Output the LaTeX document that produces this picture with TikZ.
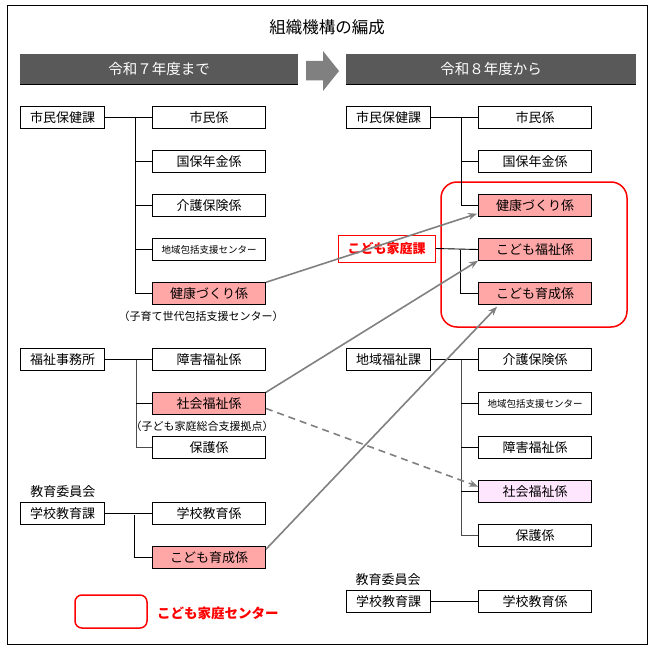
\documentclass[tikz,border=0pt]{standalone}
\usepackage{fontspec}
\setmainfont{Noto Sans CJK JP}
\usetikzlibrary{arrows.meta}
\definecolor{pinkfill}{HTML}{FFA6A6}
\definecolor{lightpink}{HTML}{FFE6FF}
\definecolor{barfill}{HTML}{595959}
\definecolor{arrowgray}{HTML}{808080}
\definecolor{boxred}{HTML}{FF0000}
\begin{document}
\begin{tikzpicture}[x=1pt,y=-1pt,
  every node/.style={inner sep=0pt},
  unitbox/.style={draw=black, line width=0.9pt, fill=white, minimum height=21.5pt, font=\fontsize{13}{13}\selectfont},
  kabox/.style={unitbox, minimum width=84pt},
  kakaribox/.style={unitbox, minimum width=113pt},
  smalltxt/.style={font=\fontsize{9.5}{9.5}\selectfont},
  hot/.style={fill=pinkfill},
  note/.style={font=\fontsize{11}{11}\selectfont},
  tree/.style={draw=black, line width=0.9pt},
  move/.style={draw=arrowgray, line width=1.6pt, -{Stealth[length=9pt,width=7pt]}},
  headbar/.style={fill=barfill, minimum width=278pt, minimum height=30pt, text=white, font=\fontsize{14.5}{14.5}\selectfont},
  centerbox/.style={draw=boxred, line width=1.5pt, rounded corners=16pt}
]
\useasboundingbox (0,0) rectangle (653,650);
% frame
\node[draw=black, line width=1pt, minimum width=640pt, minimum height=638pt] (frame) at (327,325) {};
% title
\node[font=\fontsize{16.5}{16.5}\selectfont] (title) at (327,27) {組織機構の編成};
% header bars
\node[headbar] (hleft) at (159,69) {令和７年度まで};
\node[headbar, minimum width=290pt] (hright) at (491,69) {令和８年度から};
\draw[black, line width=1.2pt] (hleft.south west) -- (hleft.south east);
\draw[black, line width=1.2pt] (hright.south west) -- (hright.south east);
\fill[arrowgray] (306,61) -- (323,61) -- (323,51) -- (339,71) -- (323,91) -- (323,80.5) -- (306,80.5) -- cycle;

% ===== left column =====
\node[kabox] (Lshimin) at (62.5,117.5) {市民保健課};
\node[kakaribox] (L1) at (209,117.5) {市民係};
\node[kakaribox] (L2) at (209,161.5) {国保年金係};
\node[kakaribox] (L3) at (209,205.5) {介護保険係};
\node[kakaribox, smalltxt] (L4) at (209,249.5) {地域包括支援センター};
\node[kakaribox, hot] (L5) at (209,293.5) {健康づくり係};
\node[note] (L5n) at (201,316) {（子育て世代包括支援センター）};
\coordinate (Lb1) at (135,117.5);
\draw[tree] (Lshimin.east) -- (L1.west);
\draw[tree] (Lb1) |- (L5.west);
\draw[tree] (Lb1 |- L2.west) -- (L2.west);
\draw[tree] (Lb1 |- L3.west) -- (L3.west);
\draw[tree] (Lb1 |- L4.west) -- (L4.west);

\node[kabox] (Lfukushi) at (62.5,359.5) {福祉事務所};
\node[kakaribox] (L6) at (209,359.5) {障害福祉係};
\node[kakaribox, hot] (L7) at (209,403.5) {社会福祉係};
\node[note] (L7n) at (202,426) {（子ども家庭総合支援拠点）};
\node[kakaribox] (L8) at (209,447.5) {保護係};
\coordinate (Lb2) at (136,359.5);
\draw[tree] (Lfukushi.east) -- (L6.west);
\draw[tree, draw=black!70] (Lb2) |- (L8.west);
\draw[tree] (Lb2 |- L7.west) -- (L7.west);

\node[font=\fontsize{13}{13}\selectfont] (Liinkai) at (63,491.5) {教育委員会};
\node[kabox] (Lgakko) at (62.5,513.5) {学校教育課};
\node[kakaribox] (L9) at (209,513.5) {学校教育係};
\node[kakaribox, hot] (L10) at (209,557.5) {こども育成係};
\coordinate (Lb3) at (134,515);
\draw[tree] (Lgakko.east) -- (L9.west);
\draw[tree] (Lb3) |- (L10.west);

% legend
\node[centerbox, rounded corners=7pt, minimum width=72pt, minimum height=33pt] (legbox) at (111,611.5) {};
\node[text=boxred, font=\bfseries\fontsize{13.5}{13.5}\selectfont, anchor=west] (legtxt) at (157,613) {こども家庭センター};

% ===== right column =====
\node[centerbox, minimum width=186pt, minimum height=145pt] (center) at (534,254.5) {};
\node[kabox] (Rshimin) at (388.5,117.5) {市民保健課};
\node[kakaribox] (R1) at (535,117.5) {市民係};
\node[kakaribox] (R2) at (535,161.5) {国保年金係};
\node[kakaribox, hot] (R3) at (535,205.5) {健康づくり係};
\coordinate (Rb1) at (461,117.5);
\draw[tree] (Rshimin.east) -- (R1.west);
\draw[tree] (Rb1) |- (R3.west);
\draw[tree] (Rb1 |- R2.west) -- (R2.west);

\node[draw=boxred, line width=1pt, fill=white, minimum width=97pt, minimum height=27pt, text=boxred, font=\bfseries\fontsize{13}{13}\selectfont] (Rkodomo) at (386.5,248.5) {こども家庭課};
\node[kakaribox, hot] (R4) at (535,249.5) {こども福祉係};
\node[kakaribox, hot] (R5) at (535,293.5) {こども育成係};
\coordinate (Rb2) at (460,249.5);
\draw[tree] (Rkodomo.east) -- (R4.west);
\draw[tree] (Rb2) |- (R5.west);

\node[kabox] (Rchiiki) at (388.5,359.5) {地域福祉課};
\node[kakaribox] (R6) at (535,359.5) {介護保険係};
\node[kakaribox, smalltxt] (R7) at (535,403.5) {地域包括支援センター};
\node[kakaribox] (R8) at (535,447.5) {障害福祉係};
\node[kakaribox, fill=lightpink] (R9) at (535,491.5) {社会福祉係};
\node[kakaribox] (R10) at (535,535.5) {保護係};
\coordinate (Rb3) at (461,359.5);
\draw[tree] (Rchiiki.east) -- (R6.west);
\draw[tree, draw=black!70] (Rb3) |- (R10.west);
\draw[tree] (Rb3 |- R7.west) -- (R7.west);
\draw[tree] (Rb3 |- R8.west) -- (R8.west);
\draw[tree] (Rb3 |- R9.west) -- (R9.west);

\node[font=\fontsize{13}{13}\selectfont] (Riinkai) at (388,580) {教育委員会};
\node[kabox] (Rgakko) at (388.5,601.5) {学校教育課};
\node[kakaribox] (R11) at (535,601.5) {学校教育係};
\draw[tree] (Rgakko.east) -- (R11.west);

% ===== moves =====
\draw[move] (L5.north east) -- ([shift={(-1pt,3pt)}]R3.south west);
\draw[move] (L7.north east) -- (R4.south west);
\draw[move] ([yshift=-3pt]L10.north east) -- ([shift={(19pt,-2pt)}]R5.south west);
\draw[move, dashed, dash pattern=on 7pt off 5pt] ([yshift=-5pt]L7.east) -- ([yshift=5pt]R9.west);
\end{tikzpicture}
\end{document}
